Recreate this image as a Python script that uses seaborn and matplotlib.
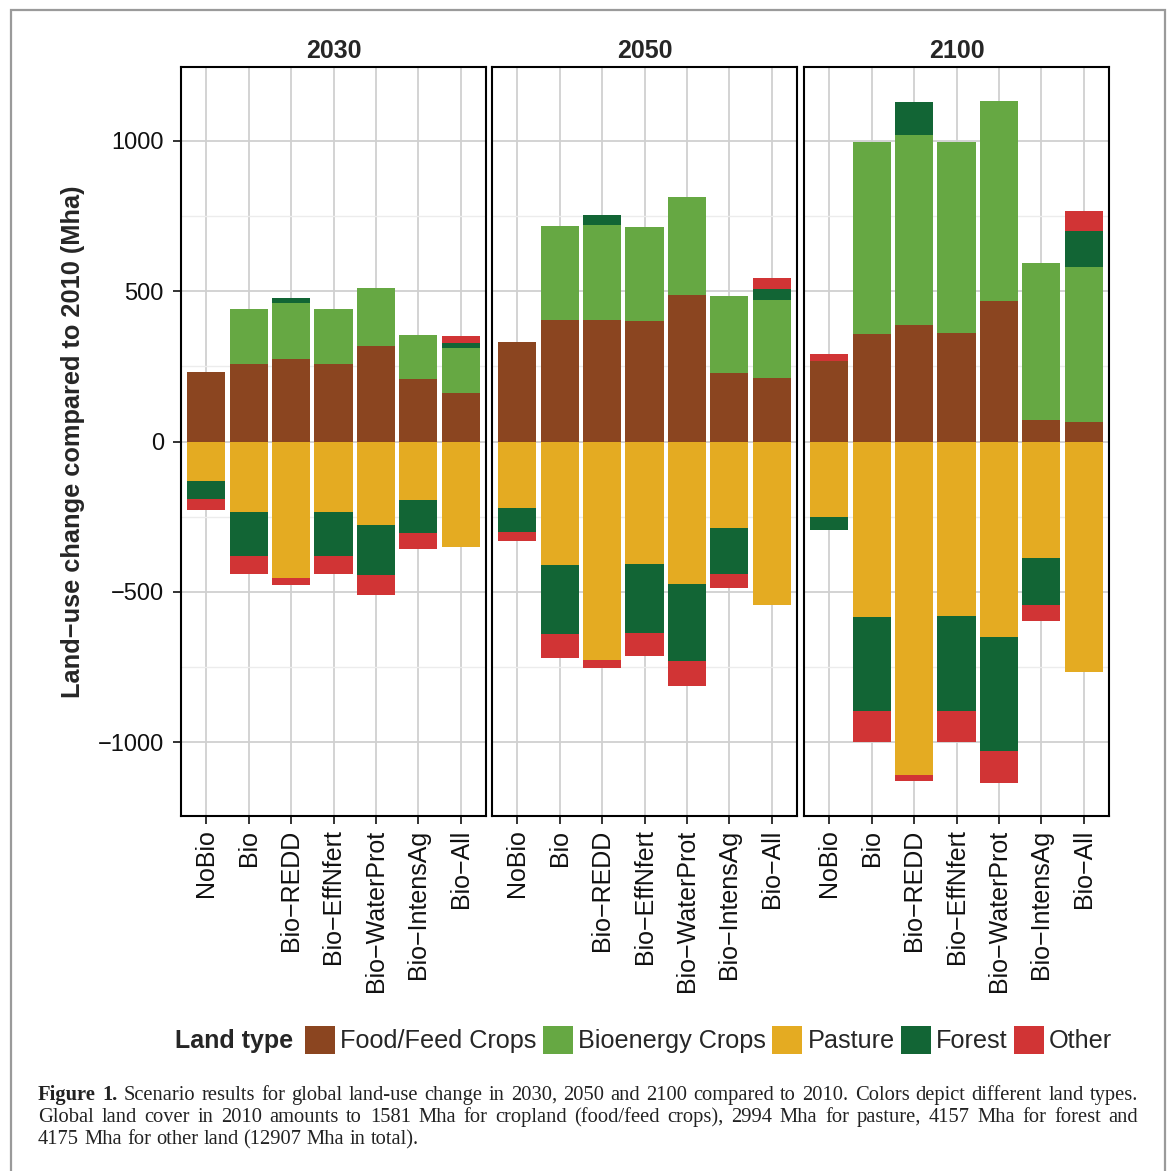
import numpy as np
import pandas as pd
import matplotlib
matplotlib.use("Agg")
import matplotlib.pyplot as plt
import seaborn as sns
from matplotlib.patches import Patch, Rectangle

# ---------------- data ----------------
scenarios = ["NoBio", "Bio", "Bio\u2212REDD", "Bio\u2212EffNfert",
             "Bio\u2212WaterProt", "Bio\u2212IntensAg", "Bio\u2212All"]
years = ["2030", "2050", "2100"]
land_types = ["Food/Feed Crops", "Bioenergy Crops", "Pasture", "Forest", "Other"]
land_colors = ["#8B4520", "#66A843", "#E4AB22", "#126535", "#D13435"]

food_2030 = [231, 258, 275, 258, 318, 208, 162]
bio_2030 = [0, 183, 186, 183, 194, 146, 150]
pasture_2030 = [-131, -234, -453, -234, -277, -194, -350]
forest_2030 = [-60, -146, 17, -146, -166, -112, 16]
other_2030 = [-38, -62, -26, -62, -69, -50, 23]

food_2050 = [330, 405, 405, 401, 488, 228, 212]
bio_2050 = [0, 311, 315, 312, 325, 256, 259]
pasture_2050 = [-221, -410, -727, -407, -473, -287, -544]
forest_2050 = [-79, -230, 34, -230, -257, -153, 37]
other_2050 = [-30, -80, -28, -76, -83, -47, 36]

food_2100 = [269, 359, 386, 362, 466, 72, 66]
bio_2100 = [0, 639, 633, 636, 668, 522, 513]
pasture_2100 = [-251, -584, -1111, -581, -651, -388, -766]
forest_2100 = [-42, -314, 110, -317, -380, -156, 120]
other_2100 = [23, -103, -17, -103, -106, -54, 67]

y_ticks = [-1000, -500, 0, 500, 1000]
y_tick_labels = ["\u22121000", "\u2212500", "0", "500", "1000"]
y_label = "Land\u2212use change compared to 2010 (Mha)"
legend_title = "Land type"
caption_lines = [
    "Figure 1. Scenario results for global land-use change in 2030, 2050 and 2100 compared to 2010. Colors depict different land types.",
    "Global land cover in 2010 amounts to 1581 Mha for cropland (food/feed crops), 2994 Mha for pasture, 4157 Mha for forest and",
    "4175 Mha for other land (12907 Mha in total).",
]

series = {
    "2030": [food_2030, bio_2030, pasture_2030, forest_2030, other_2030],
    "2050": [food_2050, bio_2050, pasture_2050, forest_2050, other_2050],
    "2100": [food_2100, bio_2100, pasture_2100, forest_2100, other_2100],
}

# ---------------- style ----------------
sns.set_style("white")
plt.rcParams["font.family"] = ["Liberation Sans", "DejaVu Sans"]

W, H = 1170, 1171
fig = plt.figure(figsize=(W / 100, H / 100), dpi=100)

# outer grey frame
fig.add_artist(Rectangle((11 / W, -0.02), (1165 - 11) / W, 1.02 - 10 / H,
                         transform=fig.transFigure, fill=False,
                         edgecolor="#9a9a9a", linewidth=1.6))

lefts = [181, 492, 804]
pw = 305
ptop, pbot = 67, 816

for i, yr in enumerate(years):
    ax = fig.add_axes([lefts[i] / W, 1 - pbot / H, pw / W, (pbot - ptop) / H])
    vals = np.array(series[yr], dtype=float)  # shape (5, 7)
    pos = np.clip(vals, 0, None)
    neg = np.clip(vals, None, 0)
    cum_pos = np.cumsum(pos, axis=0)
    cum_neg = np.cumsum(neg, axis=0)
    # draw cumulative stacks, largest first so each layer overlays the previous
    for k in range(len(land_types) - 1, -1, -1):
        for cum in (cum_pos, cum_neg):
            df = pd.DataFrame({"scenario": scenarios, "value": cum[k]})
            sns.barplot(data=df, x="scenario", y="value", order=scenarios,
                        color=land_colors[k], saturation=1, width=0.9,
                        errorbar=None, linewidth=0, ax=ax)
    ax.set_xlim(-0.6, 6.6)
    ax.set_ylim(-1246, 1246)
    ax.set_xlabel("")
    ax.set_ylabel("")
    ax.set_yticks(y_ticks)
    ax.set_yticks([-750, -250, 250, 750], minor=True)
    ax.set_axisbelow(True)
    ax.grid(which="major", color="#d0d0d0", linewidth=1.3)
    ax.grid(which="minor", axis="y", color="#ececec", linewidth=1.0)
    for s in ax.spines.values():
        s.set_color("black")
        s.set_linewidth(1.5)
    ax.tick_params(axis="x", which="major", direction="out", length=5.8, width=1.4,
                   color="#333333", labelsize=18, labelcolor="#111111",
                   labelrotation=90, pad=4, bottom=True)
    ax.tick_params(axis="y", which="minor", left=False, length=0)
    if i == 0:
        ax.set_yticklabels(y_tick_labels)
        ax.tick_params(axis="y", which="major", direction="out", length=5.8, width=1.4,
                       color="#333333", labelsize=17, labelcolor="#111111", pad=6.5,
                       left=True)
    else:
        ax.tick_params(axis="y", which="major", left=False, labelleft=False)
    fig.text((lefts[i] + pw / 2) / W, 1 - 51 / H, yr, ha="center", va="center",
             fontsize=18, fontweight="bold")

fig.text(73 / W, 1 - 441.5 / H, y_label, rotation=90, ha="center", va="center",
         fontsize=18.3, fontweight="bold")

# legend
handles = [Patch(facecolor=c, edgecolor="none") for c in land_colors]
fig.text(175 / W, 1 - 1041 / H, legend_title, ha="left", va="center",
         fontsize=18, fontweight="bold")
fig.legend(handles, land_types, ncol=5, loc="center left",
           bbox_to_anchor=(305 / W, 1 - 1040 / H), frameon=False,
           fontsize=18.2, handlelength=1.2, handleheight=1.3, handletextpad=0.2,
           columnspacing=0.24, borderpad=0, borderaxespad=0)

# caption (justified lines)
fig.canvas.draw()
renderer = fig.canvas.get_renderer()
x0, x1 = 38, 1138
baselines = [1100, 1122, 1144]
serif = ["Liberation Serif", "DejaVu Serif"]

# pick a size whose natural width of the first line is slightly under the column width
probe = fig.text(0, 0, caption_lines[0], fontsize=10, family=serif)
w10 = probe.get_window_extent(renderer).width
probe.remove()
cap_size = 10 * 1075 / w10

for li, line in enumerate(caption_lines):
    words = line.split(" ")
    texts = []
    for wi, w in enumerate(words):
        bold = (li == 0 and wi < 2)
        t = fig.text(0, 1 - baselines[li] / H, w, fontsize=cap_size,
                     family=serif,
                     fontweight="bold" if bold else "normal",
                     ha="left", va="baseline", color="#222222")
        texts.append(t)
    widths = [t.get_window_extent(renderer).width for t in texts]
    if li < len(caption_lines) - 1:
        gap = (x1 - x0 - sum(widths)) / (len(words) - 1)
    else:
        sp = fig.text(0, 0, "a a", fontsize=cap_size, family=serif)
        sp2 = fig.text(0, 0, "aa", fontsize=cap_size, family=serif)
        gap = sp.get_window_extent(renderer).width - sp2.get_window_extent(renderer).width
        sp.remove(); sp2.remove()
    x = x0
    for t, w in zip(texts, widths):
        t.set_x(x / W)
        x += w + gap

fig.savefig("out.png", dpi=100)
